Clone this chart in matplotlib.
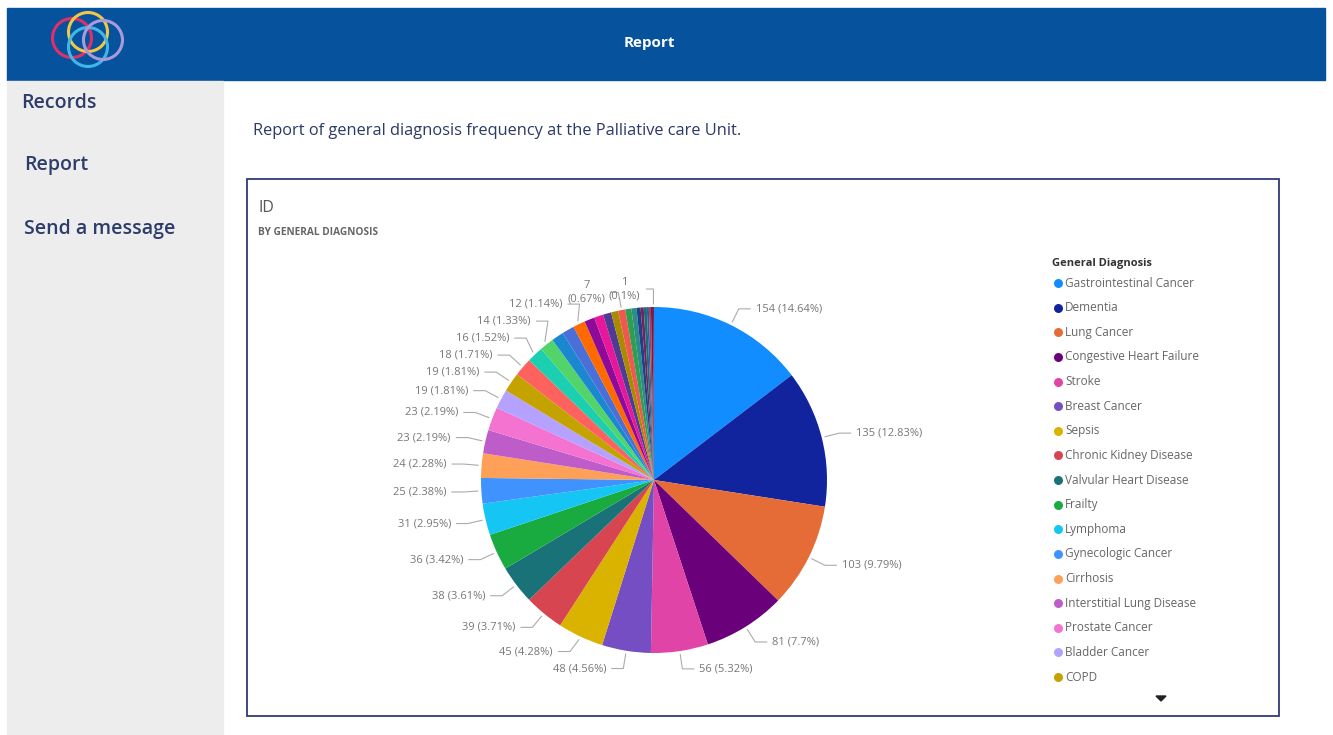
import numpy as np
import matplotlib.pyplot as plt
from matplotlib.patches import Rectangle, Circle

W, H = 1333, 735

# pie data, clockwise from 12 o'clock
diagnoses = [
    "Gastrointestinal Cancer", "Dementia", "Lung Cancer", "Congestive Heart Failure",
    "Stroke", "Breast Cancer", "Sepsis", "Chronic Kidney Disease",
    "Valvular Heart Disease", "Frailty", "Lymphoma", "Gynecologic Cancer",
    "Cirrhosis", "Interstitial Lung Disease", "Prostate Cancer", "Bladder Cancer",
    "COPD",
    # not visible in the (scrolled) legend
    "Liver Cancer", "Head and Neck Cancer", "Pancreatic Cancer", "Leukemia",
    "Brain Tumor", "Parkinson's Disease", "Renal Cancer", "ALS", "Multiple Myeloma",
    "Skin Cancer", "Ovarian Cancer", "Pneumonia", "Multiple Sclerosis", "HIV/AIDS",
    "Sarcoma", "Thyroid Cancer", "Mesothelioma", "Bone Cancer", "Other", "Unknown",
]
counts = [154, 135, 103, 81, 56, 48, 45, 39, 38, 36, 31, 25, 24, 23, 23, 19, 19,
          18, 16, 14, 12, 12, 12, 10, 9, 8, 7, 7, 6, 5, 4, 3, 3, 2, 2, 2, 1]
slice_colors = [
    "#118DFF", "#12239E", "#E66C37", "#6B007B", "#E044A7", "#744EC2", "#D9B300",
    "#D64550", "#197278", "#1AAB40", "#15C6F4", "#4092FF", "#FFA058", "#BE5DC9",
    "#F472D0", "#B5A1FF", "#C4A200", "#FD625E", "#1CCFB0", "#52D46A", "#1B87D0",
    "#4A6FD8", "#FF6A00", "#8E0A99", "#E8169A", "#4E3C92", "#A88B00", "#F0574F",
    "#2E9E4F", "#2C8C86", "#1E3F8A", "#7A1F5C", "#16706E", "#1F5FBF", "#C8323A",
    "#4A2A6E", "#A01A2A",
]
# slices that Power BI gave a data label
labelled = set(range(20)) | {22, 27, 36}
legend_rows = 17

nav_items = ["Records", "Report", "Send a message"]

plt.rcParams["font.family"] = ["Open Sans", "DejaVu Sans"]

fig = plt.figure(figsize=(W / 100, H / 100), dpi=100)
ax = fig.add_axes([0, 0, 1, 1])


def up(y):
    # screen y (down) -> axes y (up)
    return H - y


# --- page chrome ---
ax.add_patch(Rectangle((7, up(80)), 1318, 72, color="#07529C", zorder=1))
ax.add_patch(Rectangle((7, 0), 216, up(81), color="#EDEDED", zorder=1))
ax.text(649, up(43), "Report", color="white", fontsize=11, fontweight="bold",
        ha="center", va="center", zorder=3)

logo = [((72, 38), "#E0306A"), ((88, 32), "#F2C744"),
        ((88, 47), "#3DB8E8"), ((103, 40), "#A99BDB")]
for (lx, ly), c in logo:
    ax.add_patch(Circle((lx, up(ly)), 19.5, fill=False, ec=c, lw=2.2, zorder=3))

for (nx, ny), name in zip([(21, 102), (24, 164), (24, 228)], nav_items):
    ax.text(nx, up(ny + 1), name, color="#2D3C6A", fontsize=14, fontweight="semibold",
            ha="left", va="center", zorder=3)

ax.text(253, up(131), "Report of general diagnosis frequency at the Palliative care Unit.",
        color="#2B3966", fontsize=11.8, ha="left", va="center", zorder=3)

ax.add_patch(Rectangle((247, up(716)), 1032, 537, fill=False, ec="#2F3B7A",
                       lw=1.3, zorder=3))
ax.text(258, up(208), "ID", color="#555555", fontsize=11.5, ha="left",
        va="center", zorder=3)
ax.text(258, up(232), "BY GENERAL DIAGNOSIS", color="#666666", fontsize=7.3,
        fontweight="bold", ha="left", va="center", zorder=3)

# --- pie ---
cx, cy, r = 654, up(480), 173
wedges, _ = ax.pie(counts, colors=slice_colors, startangle=90, counterclock=False,
                   radius=r, center=(cx, cy), wedgeprops=dict(linewidth=0))

total = sum(counts)
elbow_r = r + 18
gap = 17
lab_col = "#777777"
line_col = "#ABABAB"


def label_text(v):
    pct = f"{v / total * 100:.2f}".rstrip("0").rstrip(".")
    return f"{v} ({pct}%)"


sides = {"left": [], "right": []}
tops = []
for i, w in enumerate(wedges):
    if i not in labelled:
        continue
    mid = np.deg2rad((w.theta1 + w.theta2) / 2)
    ex = cx + elbow_r * np.cos(mid)
    ey = cy + elbow_r * np.sin(mid)
    if abs(ex - cx) < 40 and ey > cy:
        tops.append((i, mid, ex, ey))
    else:
        sides["left" if ex < cx else "right"].append([i, mid, ey])

for side, items in sides.items():
    items.sort(key=lambda t: t[2])  # bottom first (axes y up)
    prev = None
    for it in items:
        if prev is not None:
            it[2] = max(it[2], prev + gap)
        prev = it[2]
    sgn = -1 if side == "left" else 1
    for i, mid, ey in items:
        dy = ey - cy
        ex = cx + sgn * np.sqrt(max(elbow_r ** 2 - dy ** 2, 0))
        sx = cx + (r + 3) * np.cos(mid)
        sy = cy + (r + 3) * np.sin(mid)
        ax.plot([sx, ex, ex + sgn * 12], [sy, ey, ey], color=line_col, lw=0.8,
                zorder=4, solid_capstyle="butt")
        ax.text(ex + sgn * 17, ey, label_text(counts[i]), color=lab_col, fontsize=8,
                ha="left" if sgn > 0 else "right", va="center", zorder=5)

for i, mid, ex, ey in tops:
    sx = cx + (r + 3) * np.cos(mid)
    sy = cy + (r + 3) * np.sin(mid)
    ax.plot([sx, ex, ex - 7], [sy, ey, ey], color=line_col, lw=0.8, zorder=4)
    v, pct = label_text(counts[i]).split(" ")
    ax.text(ex - 13, ey, f"{v}\n{pct}", color=lab_col, fontsize=8, ha="right",
            va="center", multialignment="center", linespacing=1.25, zorder=5)

# --- legend ---
ax.text(1052, up(263), "General Diagnosis", color="#333333", fontsize=8,
        fontweight="bold", ha="left", va="center", zorder=3)
for k in range(legend_rows):
    ly = up(283 + k * 24.63)
    ax.scatter([1058], [ly], s=42, color=slice_colors[k], zorder=4, linewidths=0)
    ax.text(1065, ly, diagnoses[k], color="#666666", fontsize=8.5, ha="left",
            va="center", zorder=4)
ax.fill([1156, 1166, 1161], [up(696), up(696), up(701)], color="#222222", zorder=4)

ax.set_xlim(0, W)
ax.set_ylim(0, H)
ax.set_aspect("auto")
ax.axis("off")

fig.savefig("out.png", dpi=100, facecolor="white")
